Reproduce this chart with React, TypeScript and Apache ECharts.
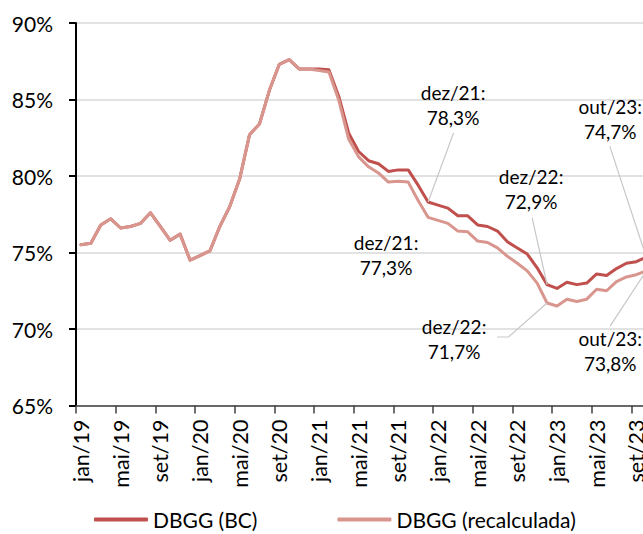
import { useEffect, useRef } from "react";
import * as echarts from "echarts";

const categories = [
  "jan/19", "fev/19", "mar/19", "abr/19", "mai/19", "jun/19", "jul/19", "ago/19", "set/19", "out/19", "nov/19", "dez/19",
  "jan/20", "fev/20", "mar/20", "abr/20", "mai/20", "jun/20", "jul/20", "ago/20", "set/20", "out/20", "nov/20", "dez/20",
  "jan/21", "fev/21", "mar/21", "abr/21", "mai/21", "jun/21", "jul/21", "ago/21", "set/21", "out/21", "nov/21", "dez/21",
  "jan/22", "fev/22", "mar/22", "abr/22", "mai/22", "jun/22", "jul/22", "ago/22", "set/22", "out/22", "nov/22", "dez/22",
  "jan/23", "fev/23", "mar/23", "abr/23", "mai/23", "jun/23", "jul/23", "ago/23", "set/23", "out/23",
];

const dbggBC = [
  75.5, 75.6, 76.8, 77.2, 76.6, 76.7, 76.9, 77.6, 76.7, 75.8, 76.2, 74.5,
  74.8, 75.1, 76.7, 78.0, 79.8, 82.7, 83.4, 85.6, 87.3, 87.6, 87.0, 87.0,
  87.0, 86.95, 85.2, 82.8, 81.6, 81.0, 80.8, 80.3, 80.4, 80.4, 79.4, 78.3,
  78.1, 77.9, 77.4, 77.4, 76.8, 76.7, 76.4, 75.7, 75.3, 74.9, 74.0, 72.9,
  72.65, 73.05, 72.9, 73.0, 73.6, 73.5, 73.95, 74.3, 74.4, 74.7,
];

const dbggRecalc = [
  75.5, 75.6, 76.8, 77.2, 76.6, 76.7, 76.9, 77.6, 76.7, 75.8, 76.2, 74.5,
  74.8, 75.1, 76.7, 78.0, 79.8, 82.7, 83.4, 85.6, 87.3, 87.6, 87.0, 87.0,
  86.9, 86.8, 84.95, 82.4, 81.25, 80.6, 80.2, 79.6, 79.65, 79.6, 78.4, 77.3,
  77.1, 76.9, 76.4, 76.35, 75.75, 75.65, 75.3, 74.75, 74.3, 73.8, 73.0, 71.7,
  71.5, 71.95, 71.8, 71.95, 72.6, 72.5, 73.1, 73.4, 73.55, 73.8,
];

const seriesNames = ["DBGG (BC)", "DBGG (recalculada)"];
const yMin = 65;
const yMax = 90;
const yStep = 5;

// which points get a callout: series index + category
const annotatedPoints = [
  { series: 0, category: "dez/21" },
  { series: 0, category: "dez/22" },
  { series: 0, category: "out/23" },
  { series: 1, category: "dez/21" },
  { series: 1, category: "dez/22" },
  { series: 1, category: "out/23" },
];

// layout of callouts relative to their point (pixels)
const annotationLayout = [
  { dx: 25, dy: -97, leader: [[25.5, -69]] },
  { dx: -16, dy: -96, leader: [[-15, -67]] },
  { dx: -36, dy: -138, leader: [[-36.5, -111]] },
  { dx: -42, dy: 38, leader: [] as number[][] },
  { dx: -93, dy: 36.5, leader: [[-50, 34], [-38.5, 34]] },
  { dx: -36, dy: 80, leader: [[-36, 55]] },
];

const colors = ["#C0504D", "#D9968E"];
const FONT = "Lato, 'Open Sans', sans-serif";

export default function App() {
  const ref = useRef<HTMLDivElement>(null);

  useEffect(() => {
    if (!ref.current) return;
    const chart = echarts.init(ref.current, null, { renderer: "svg" });
    const allSeries = [dbggBC, dbggRecalc];
    chart.setOption({
      animation: false,
      textStyle: { fontFamily: FONT },
      color: colors,
      grid: { left: 76, right: 8.8, top: 23, bottom: 128.5, containLabel: false },
      legend: {
        data: seriesNames,
        left: 89,
        top: 504,
        icon: "roundRect",
        itemWidth: 54,
        itemHeight: 4,
        itemGap: 80,
        textStyle: { fontSize: 21, color: "#000", fontFamily: FONT },
      },
      xAxis: {
        type: "category",
        data: categories,
        boundaryGap: true,
        axisLine: { lineStyle: { color: "#404040", width: 1.5 } },
        axisTick: { show: true, interval: 3, length: 8, lineStyle: { color: "#404040", width: 1.5 } },
        axisLabel: {
          interval: 3,
          rotate: 90,
          margin: 14,
          fontSize: 21.5,
          color: "#000",
          fontFamily: FONT,
        },
        splitLine: { show: false },
      },
      yAxis: {
        type: "value",
        min: yMin,
        max: yMax,
        interval: yStep,
        axisLine: { show: true, lineStyle: { color: "#000", width: 2 } },
        axisTick: { show: true, length: 7, lineStyle: { color: "#000", width: 2 } },
        axisLabel: {
          formatter: "{value}%",
          margin: 23,
          fontSize: 21,
          color: "#000",
          fontFamily: FONT,
        },
        splitLine: { lineStyle: { color: "#d9d9d9", width: 1.5 } },
      },
      series: allSeries.map((d, i) => ({
        name: seriesNames[i],
        type: "line",
        data: d,
        symbol: "none",
        lineStyle: { width: 3, color: colors[i], cap: "round", join: "round" },
        z: 2 + i,
      })),
    });

    const graphics: any[] = [];
    annotatedPoints.forEach((a, k) => {
      const idx = categories.indexOf(a.category);
      const value = allSeries[a.series][idx];
      const p = chart.convertToPixel({ gridIndex: 0 }, [idx, value]) as number[];
      const lay = annotationLayout[k];
      const text = `${a.category}:\n${value.toFixed(1).replace(".", ",")}%`;
      if (lay.leader.length) {
        const pts = lay.leader.map((o) => [p[0] + o[0], p[1] + o[1]]);
        pts.push([p[0], p[1]]);
        graphics.push({
          type: "polyline",
          shape: { points: pts },
          style: { stroke: "#c8c8c8", lineWidth: 1.2, fill: null },
          z: 10,
        });
      }
      graphics.push({
        type: "text",
        x: p[0] + lay.dx,
        y: p[1] + lay.dy,
        style: {
          text,
          fill: "#000",
          fontSize: 19,
          fontFamily: FONT,
          lineHeight: 25,
          align: "center",
          verticalAlign: "middle",
        },
        z: 11,
      });
    });
    chart.setOption({ graphic: graphics });

    return () => chart.dispose();
  }, []);

  return (
    <div style={{ position: "fixed", left: 0, top: 0, width: 643, height: 534, overflow: "hidden", background: "#fff" }}>
      <div ref={ref} style={{ width: 660, height: 534 }} />
    </div>
  );
}
